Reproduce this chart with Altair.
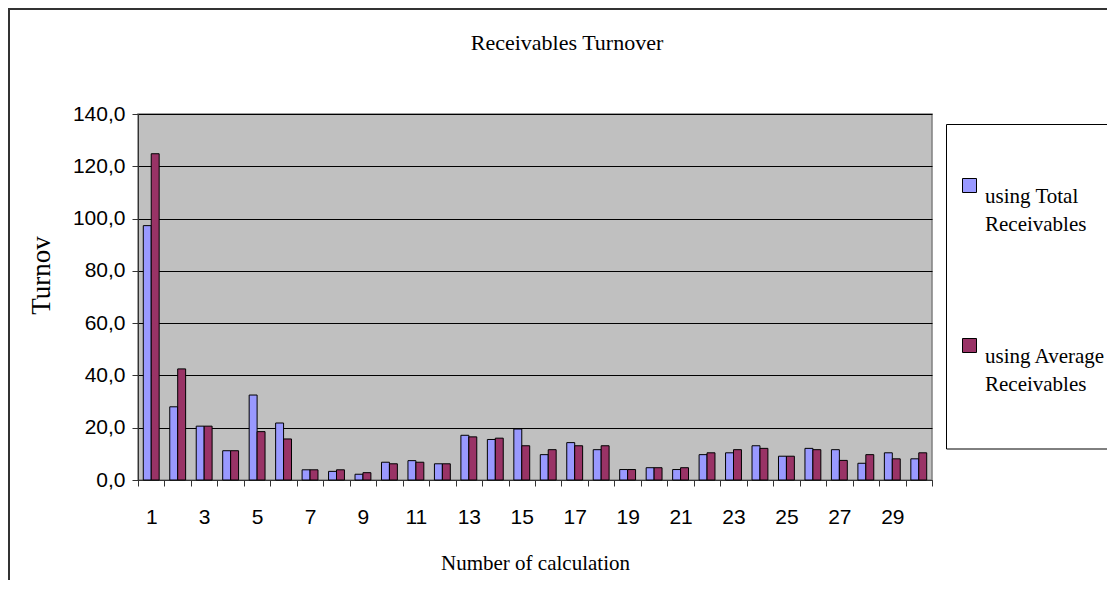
import altair as alt
import pandas as pd

calc = list(range(1, 31))
total = [97.3, 28.0, 20.6, 11.2, 32.5, 21.8, 3.9, 3.3, 2.2, 6.8,
         7.4, 6.2, 17.1, 15.5, 19.5, 9.7, 14.3, 11.6, 4.0, 4.7,
         4.0, 9.7, 10.4, 13.1, 9.1, 12.1, 11.6, 6.4, 10.4, 8.1]
average = [124.8, 42.5, 20.6, 11.2, 18.5, 15.7, 3.9, 3.9, 2.8, 6.2,
           6.8, 6.2, 16.5, 16.0, 13.1, 11.6, 13.1, 13.1, 4.0, 4.7,
           4.7, 10.4, 11.6, 12.1, 9.1, 11.6, 7.5, 9.7, 8.1, 10.4]
series = ["using Total Receivables", "using Average Receivables"]
colors = ["#9999FF", "#993366"]
y_ticks = [0, 20, 40, 60, 80, 100, 120, 140]
chart_title = "Receivables Turnover"

rows = []
for i, c in enumerate(calc):
    rows.append({"calc": c, "series": series[0], "value": total[i]})
    rows.append({"calc": c, "series": series[1], "value": average[i]})
df = pd.DataFrame(rows)

W, H = 794, 366

serif = "Liberation Serif"
sans = "Liberation Sans"

bars = alt.Chart(df).mark_bar(stroke="black", strokeWidth=1).encode(
    x=alt.X(
        "calc:O",
        sort=calc,
        scale=alt.Scale(paddingInner=0, paddingOuter=0),
        axis=alt.Axis(
            title="Number of calculation",
            titleFont=serif, titleFontSize=21, titleFontWeight="normal",
            titleColor="black", titleY=83, titleBaseline="middle",
            labelExpr="datum.value % 2 == 1 ? datum.label : ''",
            labelAngle=0, labelFont=sans, labelFontSize=21, labelColor="black",
            labelPadding=20,
            tickBand="extent", tickSize=6, tickColor="#333",
            domainColor="#333", grid=False,
        ),
    ),
    xOffset=alt.XOffset("series:N", sort=series,
                        scale=alt.Scale(paddingInner=0, paddingOuter=0.667)),
    y=alt.Y(
        "value:Q",
        scale=alt.Scale(domain=[0, 140], nice=False),
        axis=alt.Axis(
            values=y_ticks,
            labelExpr="replace(format(datum.value, '.1f'), '.', ',')",
            labelFont=sans, labelFontSize=21, labelColor="black", labelPadding=7,
            tickSize=6, tickColor="#333", domainColor="#333",
            grid=True, gridColor="black", gridWidth=1,
            title="Turnov", titleFont=serif, titleFontSize=27,
            titleFontWeight="normal", titleColor="black",
            titleX=-97, titleY=161, titleBaseline="middle", titleAngle=270,
        ),
    ),
    color=alt.Color(
        "series:N", sort=series,
        scale=alt.Scale(domain=series, range=colors),
        legend=alt.Legend(
            title=None, orient="none", legendX=821, legendY=61,
            symbolType="square", symbolSize=196, symbolStrokeColor="black",
            symbolStrokeWidth=1,
            labelFont=serif, labelFontSize=21, labelColor="black",
            labelLimit=400, labelOffset=5, rowPadding=100,
            labelBaseline="top",
            labelExpr="datum.label == 'using Total Receivables' ? ['using Total', 'Receivables'] : ['using Average', 'Receivables']",
        ),
    ),
)

frame_df = pd.DataFrame({"title": [chart_title]})
legend_box = alt.Chart(frame_df).mark_rect(
    fill="white", stroke="black", strokeWidth=1
).encode(x=alt.value(808.5), x2=alt.value(975), y=alt.value(10.5), y2=alt.value(335))

border_left = alt.Chart(frame_df).mark_rule(color="#333", strokeWidth=2).encode(
    x=alt.value(-129), y=alt.value(-106), y2=alt.value(H + 100))
border_top = alt.Chart(frame_df).mark_rule(color="#333", strokeWidth=2).encode(
    x=alt.value(-130), x2=alt.value(W + 180), y=alt.value(-105))

title_text = alt.Chart(frame_df).mark_text(
    font=serif, fontSize=22, color="black", align="center", baseline="middle"
).encode(text="title:N", x=alt.value(429), y=alt.value(-71))

chart = alt.layer(legend_box, border_left, border_top, title_text, bars).properties(
    width=W, height=H,
    autosize=alt.AutoSizeParams(type="none"),
    padding={"left": 130, "top": 106, "right": 175, "bottom": 100},
    background="white",
).configure(
    style={"guide-label": {"lineHeight": 28}}
).configure_view(
    fill="#C0C0C0", stroke="#808080", strokeWidth=1.5
)

chart.save("out.html", embed_options={"renderer": "svg", "actions": False})
